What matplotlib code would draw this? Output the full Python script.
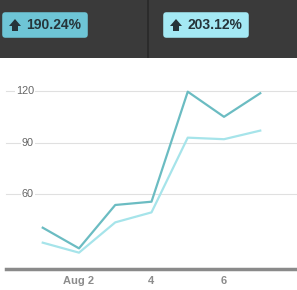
import matplotlib
matplotlib.use("Agg")
import matplotlib.pyplot as plt
from matplotlib.patches import FancyBboxPatch, Rectangle, Polygon

days = [1, 2, 3, 4, 5, 6, 7]
series_dark = [40.6, 28.6, 53.8, 55.7, 119.6, 105.0, 118.7]
series_light = [31.9, 26.1, 43.7, 49.5, 92.9, 92.0, 97.0]
yticks = [60, 90, 120]
xticks = [2, 4, 6]
xticklabels = ["Aug 2", "4", "6"]
badge_texts = ["190.24%", "203.12%"]

W, H = 297, 290
fig = plt.figure(figsize=(W / 100, H / 100), dpi=100)
fig.patch.set_facecolor("white")

def fx(px):
    return px / W

def fy(py):
    return 1 - py / H

# top dark band
fig.patches.append(Rectangle((0, fy(58)), 1, 58 / H, transform=fig.transFigure,
                             facecolor="#3a3a3a", edgecolor="none", zorder=0))
fig.patches.append(Rectangle((fx(147), fy(58)), 2 / W, 58 / H, transform=fig.transFigure,
                             facecolor="#2b2b2b", edgecolor="none", zorder=1))

badges = [(2, 12, 86, 26, "#6ec5d6"), (163, 12, 86, 26, "#a4e9f4")]
for (bx, by, bw, bh, col), txt in zip(badges, badge_texts):
    fig.patches.append(FancyBboxPatch((fx(bx + 3), fy(by + bh - 3)), (bw - 6) / W, (bh - 6) / H,
                                      boxstyle="round,pad=0.0,rounding_size=0.0",
                                      transform=fig.transFigure, facecolor=col,
                                      edgecolor=col, linewidth=4, joinstyle="round", zorder=2))
    # arrow icon
    ax0 = bx + 7
    cy = by + 13
    pts = [(ax0 + 0, cy + 1), (ax0 + 6, cy - 6), (ax0 + 12, cy + 1), (ax0 + 9, cy + 1),
           (ax0 + 9, cy + 6), (ax0 + 3, cy + 6), (ax0 + 3, cy + 1)]
    fig.patches.append(Polygon([(fx(x), fy(y)) for x, y in pts], closed=True,
                               transform=fig.transFigure, facecolor="#26343a",
                               edgecolor="none", zorder=3))
    fig.text(fx(bx + 24), fy(cy), txt, fontsize=10, fontweight="bold",
             family="Liberation Sans", color="#26343a", ha="left", va="center", zorder=4)

# plot axes
bottom_px, top_px = 269, 58
ax = fig.add_axes([0, (H - bottom_px) / H, 1, (bottom_px - top_px) / H])
ax.set_facecolor("white")
ppd = 36.25
ax.set_xlim(2 - 79 / ppd, 2 + (W - 79) / ppd)
ppu = 51.65 / 30
ax.set_ylim(60 - (bottom_px - 194.3) / ppu, 60 + (194.3 - top_px) / ppu)

for t in yticks:
    ax.axhline(t, xmin=6 / W, xmax=1, color="#e0e0e0", lw=0.8, zorder=1)
    ax.text(34 / W, t, str(t), transform=ax.get_yaxis_transform(), ha="right",
            va="center", fontsize=7.8, family="Liberation Sans", color="#666666",
            bbox=dict(facecolor="white", edgecolor="none", pad=0.5), zorder=2)

ax.plot(days, series_light, color="#a6e4ea", lw=1.6, zorder=3)
ax.plot(days, series_dark, color="#6bbcc2", lw=1.6, zorder=4)

ax.axhline(ax.get_ylim()[0], xmin=6 / W, xmax=1, color="#8a8a8a", lw=2.5, zorder=5, clip_on=False)

for t, lab in zip(xticks, xticklabels):
    fig.text(fx(79 + (t - 2) * ppd), fy(280.5), lab, ha="center", va="center",
             fontsize=8, fontweight="bold", family="Liberation Sans", color="#8c8c8c")

ax.set_xticks([])
ax.set_yticks([])
for s in ax.spines.values():
    s.set_visible(False)

fig.savefig("out.png", dpi=100, facecolor="white")
